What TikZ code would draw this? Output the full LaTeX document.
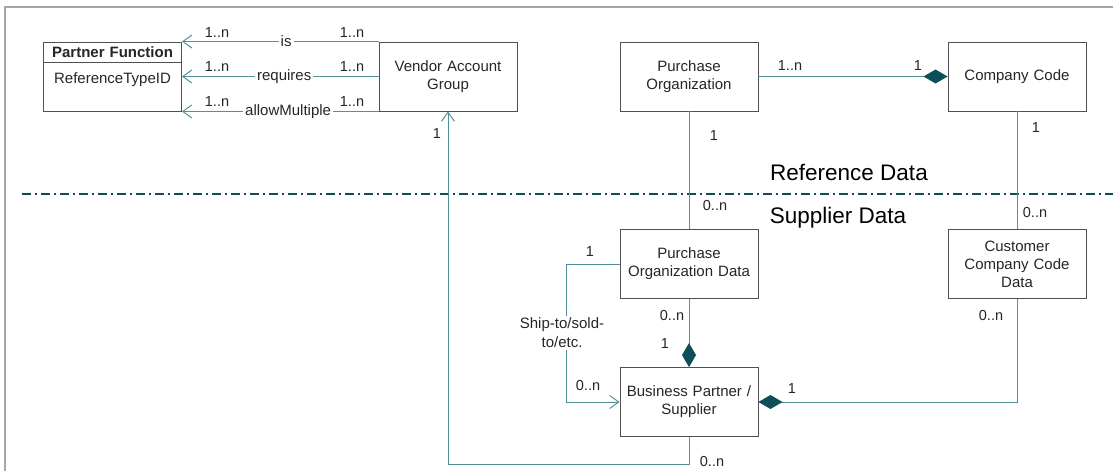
\documentclass[tikz,border=0pt]{standalone}
\usepackage{fontspec}
\setmainfont{Liberation Sans}
\usetikzlibrary{positioning,arrows.meta}
\usepackage{xcolor}
\definecolor{LinkTeal}{RGB}{84,143,156}
\definecolor{DarkTeal}{RGB}{14,78,90}
\definecolor{BoxGrey}{RGB}{80,80,80}
\definecolor{TextGrey}{RGB}{38,38,38}
\definecolor{FrameGrey}{RGB}{166,166,166}

\begin{document}
\begin{tikzpicture}[
x=1pt,y=-1pt,
box/.style={
  rectangle,
  draw=BoxGrey,
  line width=0.9pt,
  fill=white,
  text=TextGrey,
  minimum width=138pt,
  minimum height=69pt,
  text width=134pt,
  inner sep=0pt,
  align=center,
  font=\fontsize{15}{18}\selectfont
},
head/.style={box,minimum height=20pt},
link/.style={draw=LinkTeal,line width=1pt},
open/.style={-{Straight Barb[length=9pt,width=13pt]}},
owner/.style={-{Diamond[length=24pt,width=14pt,color=DarkTeal]}},
mult/.style={inner sep=0pt,text=TextGrey,font=\fontsize{14.5}{17}\selectfont},
rel/.style={fill=white,inner sep=2pt,text=TextGrey,align=center,font=\fontsize{15}{19}\selectfont},
area/.style={inner sep=0pt,text=black,font=\fontsize{22.5}{26}\selectfont},
divider/.style={draw=DarkTeal,line width=1.8pt,dash pattern=on 9pt off 4pt on 2pt off 4pt}
]
\useasboundingbox (0,0) rectangle (1113,471);
\draw[FrameGrey,line width=2pt] (5,471) -- (5,7) -- (1113,7);

% reference / supplier split
\draw[divider] (22,194) -- (1113,194);
\node[area] (refdata) at (849,172) {Reference Data};
\node[area] (supdata) at (838,218) {Supplier Data};

% classes
\node[head] (pfh) at (112.5,52) {\textbf{Partner Function}};
\node[box,minimum height=49pt,below=0pt of pfh] (pf) {ReferenceTypeID\\\mbox{}};
\node[box] (va) at (448,76.5) {Vendor Account\\Group};
\node[box] (po) at (689,76.5) {Purchase\\Organization};
\node[box] (cc) at (1017,76.5) {Company Code};
\node[box] (pod) at (689,264) {Purchase\\Organization Data};
\node[box] (ccd) at (1017,264) {Customer\\Company Code\\Data};
\node[box] (bp) at (689,402) {Business Partner /\\Supplier};

% associations
\draw[link,open] (va.north west) -- node[rel,pos=.47] (is) {is} (va.north west -| pf.east);
\draw[link,open] (va.west) -- node[rel,pos=.48] (requires) {requires} (va.west -| pf.east);
\draw[link,open] (va.south west) -- node[rel,pos=.46] (allow) {allowMultiple} (va.south west -| pf.east);
\draw[link,owner] (po.east) -- (cc.west);
\draw[link] (po.south) -- (pod.north);
\draw[link] (cc.south) -- (ccd.north);
\draw[link,owner] (pod.south) -- (bp.north);
\draw[link,owner] (ccd.south) |- (bp.east);
\draw[link,open] (pod.west) -- ++(-53,0) |- (bp.west);
\draw[link,open] (bp.south) -- ++(0,28) -| (va.south);
\node[rel] (ship) at (562,333) {Ship-to/sold-\\to/etc.};

% multiplicities
\node[mult] (m1) at (217,33) {1..n};
\node[mult] (m2) at (352,33) {1..n};
\node[mult] (m3) at (217,67) {1..n};
\node[mult] (m4) at (352,67) {1..n};
\node[mult] (m5) at (217,102) {1..n};
\node[mult] (m6) at (352,102) {1..n};
\node[mult] (m7) at (790,66) {1..n};
\node[mult] (m8) at (918,66) {1};
\node[mult] (m9) at (714,136) {1};
\node[mult] (m10) at (715,206) {0..n};
\node[mult] (m11) at (1036,128) {1};
\node[mult] (m12) at (1035,213) {0..n};
\node[mult] (m13) at (590,252) {1};
\node[mult] (m14) at (672,316) {0..n};
\node[mult] (m15) at (665,344) {1};
\node[mult] (m16) at (588,386) {0..n};
\node[mult] (m17) at (792,389) {1};
\node[mult] (m18) at (991,316) {0..n};
\node[mult] (m19) at (712,462) {0..n};
\node[mult] (m20) at (437,134) {1};
\end{tikzpicture}
\end{document}
